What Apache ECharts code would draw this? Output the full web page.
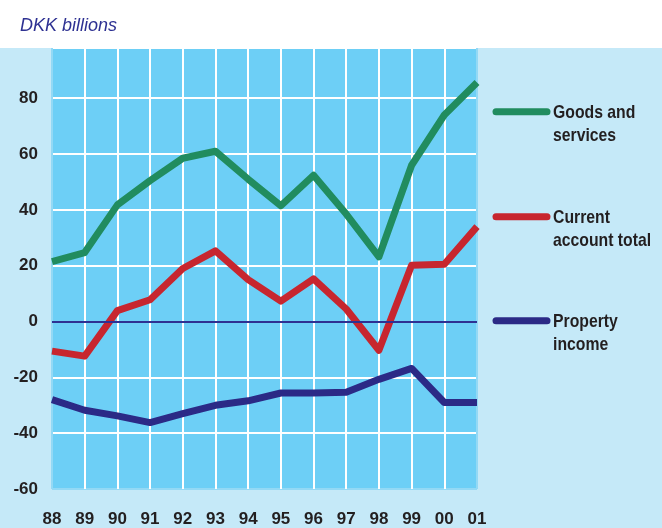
<!DOCTYPE html>
<html>
<head>
<meta charset="utf-8">
<script src="https://cdn.jsdelivr.net/npm/echarts@6/dist/echarts.min.js"></script>
<style>
html,body{margin:0;padding:0;background:#fff;}
#chart{width:662px;height:528px;background:linear-gradient(#ffffff 0px,#ffffff 48px,#c5e9f8 48px,#c5e9f8 528px);}
</style>
</head>
<body>
<div id="chart"></div>
<script>
var years = ['88','89','90','91','92','93','94','95','96','97','98','99','00','01'];
var goodsServices = [21.5, 24.7, 41.8, 50.5, 58.5, 61, 51, 41.5, 52.4, 38.5, 23.2, 56, 74, 85.6];
var currentAccount = [-10.6, -12.4, 3.9, 7.8, 19, 25.3, 15, 7.3, 15.3, 4.5, -10.3, 20.2, 20.5, 34];
var propertyIncome = [-28, -31.8, -33.8, -36.2, -33, -30, -28.4, -25.6, -25.6, -25.3, -20.7, -16.8, -29, -29];
var seriesNames = ['Goods and\nservices', 'Current\naccount total', 'Property\nincome'];
var seriesColors = ['#218c5f', '#c7262f', '#2b2a86'];
var titleText = 'DKK billions';

var FONT = "'Liberation Sans', Arial, sans-serif";
var chart = echarts.init(document.getElementById('chart'), null, {renderer: 'canvas'});

var xLineColors = years.map(function (y, i) { return (i === 0 || i === years.length - 1) ? '#93d9f5' : '#ffffff'; });
var yLineColors = ['#93d9f5', '#ffffff', '#ffffff', '#ffffff', '#ffffff', '#ffffff', '#ffffff', '#ffffff', '#ffffff'];

function mkSeries(name, data, color, extra) {
  var s = {
    name: name,
    type: 'line',
    data: data,
    showSymbol: false,
    symbol: 'none',
    clip: true,
    animation: false,
    lineStyle: {color: color, width: 7, cap: 'butt', join: 'round'},
    itemStyle: {color: color}
  };
  if (extra) { for (var k in extra) s[k] = extra[k]; }
  return s;
}

var legendY = [111.7, 216.7, 320.7];
var graphics = [];
for (var i = 0; i < 3; i++) {
  graphics.push({
    type: 'line',
    shape: {x1: 496, y1: legendY[i], x2: 547, y2: legendY[i]},
    style: {stroke: seriesColors[i], lineWidth: 7, lineCap: 'round'},
    silent: true
  });
  graphics.push({
    type: 'text',
    x: 553,
    y: legendY[i] - 10,
    scaleX: 0.83,
    style: {
      text: seriesNames[i],
      font: "bold 19px " + FONT,
      lineHeight: 23,
      fill: '#231f20',
      verticalAlign: 'top',
      align: 'left'
    },
    silent: true
  });
}

chart.setOption({
  backgroundColor: 'transparent',
  animation: false,
  title: {
    text: titleText,
    left: 15,
    top: 12,
    textStyle: {fontFamily: FONT, fontStyle: 'italic', fontWeight: 'normal', fontSize: 18, color: '#2e3192'}
  },
  grid: {
    left: 52, right: 185, top: 48, bottom: 37,
    show: true,
    backgroundColor: '#6dcff6',
    borderWidth: 0
  },
  xAxis: {
    type: 'category',
    data: years,
    boundaryGap: false,
    axisLine: {show: false},
    axisTick: {show: false},
    axisLabel: {margin: 22, fontFamily: FONT, fontWeight: 'bold', fontSize: 17, color: '#231f20'},
    splitLine: {show: true, lineStyle: {color: xLineColors, width: 2}}
  },
  yAxis: {
    type: 'value',
    min: -60,
    max: 98,
    interval: 20,
    axisLine: {show: false},
    axisTick: {show: false},
    axisLabel: {margin: 14, showMaxLabel: false, fontFamily: FONT, fontWeight: 'bold', fontSize: 17, color: '#231f20'},
    splitLine: {show: true, lineStyle: {color: yLineColors, width: 2}}
  },
  series: [
    mkSeries(seriesNames[0], goodsServices, seriesColors[0], {
      markLine: {
        silent: true,
        symbol: 'none',
        animation: false,
        label: {show: false},
        lineStyle: {color: '#2e3192', width: 2, type: 'solid'},
        data: [{yAxis: 0}]
      }
    }),
    mkSeries(seriesNames[1], currentAccount, seriesColors[1]),
    mkSeries(seriesNames[2], propertyIncome, seriesColors[2])
  ],
  graphic: graphics
});
</script>
</body>
</html>
